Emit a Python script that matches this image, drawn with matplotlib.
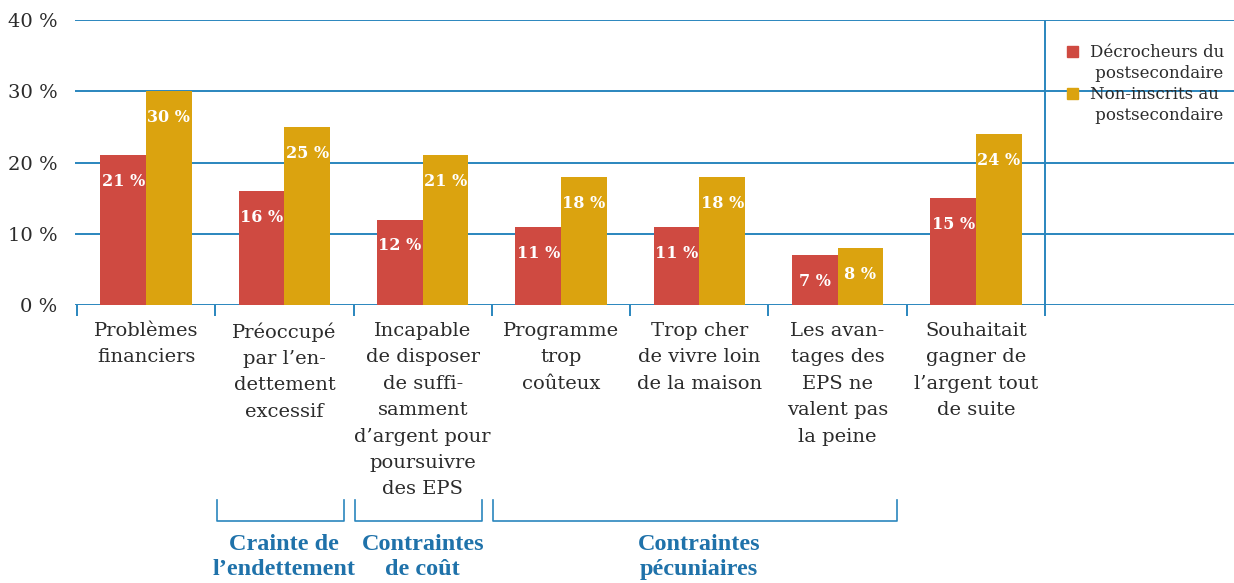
import matplotlib
matplotlib.use("Agg")
import matplotlib.pyplot as plt
import matplotlib.transforms as mtransforms
from matplotlib.patches import Rectangle
from matplotlib.lines import Line2D

categories = [
    "Problèmes\nfinanciers",
    "Préoccupé\npar l’en-\ndettement\nexcessif",
    "Incapable\nde disposer\nde suffi-\nsamment\nd’argent pour\npoursuivre\ndes EPS",
    "Programme\ntrop\ncoûteux",
    "Trop cher\nde vivre loin\nde la maison",
    "Les avan-\ntages des\nEPS ne\nvalent pas\nla peine",
    "Souhaitait\ngagner de\nl’argent tout\nde suite",
]
decrocheurs = [21, 16, 12, 11, 11, 7, 15]
non_inscrits = [30, 25, 21, 18, 18, 8, 24]
series_names = ["Décrocheurs du\n postsecondaire", "Non-inscrits au\n postsecondaire"]
yticks = [0, 10, 20, 30, 40]
ytick_labels = ["0 %", "10 %", "20 %", "30 %", "40 %"]
groups = [("Crainte de\nl’endettement", 1, 1),
          ("Contraintes\nde coût", 2, 2),
          ("Contraintes\npécuniaires", 3, 5)]

RED = "#CF4A41"
GOLD = "#DBA30F"
BLUE = "#2A86BE"
GROUPBLUE = "#1F72AA"
TXT = "#2b2b2b"
SERIF = "DejaVu Serif"

W, H = 1234, 583
fig = plt.figure(figsize=(W / 100, H / 100), dpi=100)
ax = fig.add_axes([75 / W, 1 - 305 / H, 1159 / W, 285 / H])

n = len(categories)
xs = list(range(n))
bw = 0.33
ax.bar([x - bw / 2 for x in xs], decrocheurs, width=bw, color=RED, zorder=3)
ax.bar([x + bw / 2 for x in xs], non_inscrits, width=bw, color=GOLD, zorder=3)

for x, v in zip(xs, decrocheurs):
    ax.annotate(f"{v} %", (x - bw / 2, v), xytext=(0, -19), textcoords="offset points",
                ha="center", va="center", color="white", fontweight="bold",
                fontsize=11.5, family=SERIF, zorder=4)
for x, v in zip(xs, non_inscrits):
    ax.annotate(f"{v} %", (x + bw / 2, v), xytext=(0, -19), textcoords="offset points",
                ha="center", va="center", color="white", fontweight="bold",
                fontsize=11.5, family=SERIF, zorder=4)

ax.set_xlim(-0.514, 7.866)
ax.set_ylim(0, 40)
for s in ["top", "right", "left", "bottom"]:
    ax.spines[s].set_visible(False)

for y in yticks:
    ax.axhline(y, color=BLUE, lw=1.4, zorder=1)
ax.axvline(n - 0.5, color=BLUE, lw=1.4, zorder=1)

ax.set_yticks(yticks)
ax.set_yticklabels(ytick_labels, family=SERIF, fontsize=14, color=TXT)
ax.tick_params(axis="y", length=0, pad=12.5)

ax.set_xticks([x - 0.5 for x in range(n + 1)])
ax.set_xticklabels([])
ax.tick_params(axis="x", length=8, width=1.4, color=BLUE, direction="out")

trans = mtransforms.blended_transform_factory(ax.transData, fig.transFigure)
for x, lab in zip(xs, categories):
    ax.text(x, 1 - 322 / H, lab, transform=trans, ha="center", va="top",
            family=SERIF, fontsize=14, color=TXT, linespacing=1.6)

for lab, a, b in groups:
    x0 = a - 0.5 + 0.01
    x1 = b + 0.5 - 0.07
    y0 = 1 - 500 / H
    y1 = 1 - 521 / H
    fig.add_artist(Line2D([x0, x0, x1, x1], [y0, y1, y1, y0], transform=trans,
                          color=BLUE, lw=1.2))
    ax.text((a + b) / 2, 1 - 534 / H, lab, transform=trans, ha="center", va="top",
            family="Liberation Serif", fontweight="bold", fontsize=17.5,
            color=GROUPBLUE, linespacing=1.25)

# legend
for i, (name, col) in enumerate(zip(series_names, [RED, GOLD])):
    ytop = 51 + i * 42
    fig.add_artist(Rectangle((1067 / W, 1 - (ytop + 5.5) / H), 11 / W, 11 / H,
                             transform=fig.transFigure, color=col))
    fig.text(1090 / W, 1 - (ytop - 7) / H, name, ha="left", va="top",
             family=SERIF, fontsize=12, color=TXT, linespacing=1.3)

fig.savefig("out.png", dpi=100)
